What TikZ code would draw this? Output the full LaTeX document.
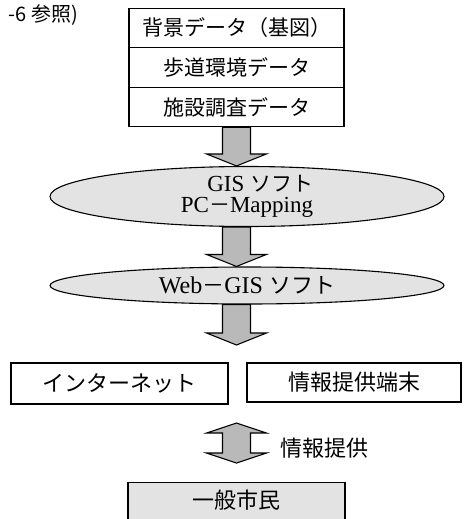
\documentclass[tikz,border=0pt]{standalone}
\usepackage{fontspec}
\setmainfont{Liberation Serif}
\newfontfamily\cjk{Noto Sans CJK JP}
\usetikzlibrary{shapes.geometric,calc}
\tikzset{
  databox/.style={draw, line width=1.1pt, minimum width=215pt, minimum height=39.5pt, inner sep=0pt, font=\cjk\fontsize{21}{21}\selectfont},
  soft/.style={ellipse, draw, line width=1.1pt, fill=gray!22, inner sep=0pt, minimum width=394pt},
  outbox/.style={draw, line width=1.1pt, inner sep=0pt, font=\cjk\fontsize{22}{22}\selectfont},
  blockarrow/.style={draw, line width=1.1pt, fill=gray!55, line join=miter},
}
\newcommand\blockdown[2]{%
  \draw[blockarrow] let \p1=(#1), \p2=(#2) in
    (\x1-14pt,\y1) -- (\x1-14pt,\y2+12pt) -- (\x1-30pt,\y2+12pt) -- (\x1,\y2)
    -- (\x1+30pt,\y2+12pt) -- (\x1+14pt,\y2+12pt) -- (\x1+14pt,\y1) -- cycle;}
\begin{document}
\begin{tikzpicture}[x=1pt,y=-1pt]
\useasboundingbox (0,0) rectangle (463,519);
\node[font=\cjk\fontsize{20}{20}\selectfont, anchor=east, inner sep=0pt] (ref) at (78,15) {-6 参照)};
\node[databox] (b1) at (236.5,28) {背景データ（基図）};
\node[databox] (b2) at (236.5,67.5) {歩道環境データ};
\node[databox] (b3) at (236.5,107) {施設調査データ};
\node[soft, minimum height=60pt, align=right, font=\fontsize{23}{21}\selectfont] (e1) at (247,196.5) {GIS {\cjk\fontsize{21}{21}\selectfont ソフト}\\PC{\cjk\fontsize{21}{21}\selectfont －}Mapping};
\node[soft, minimum height=37pt, font=\fontsize{24}{24}\selectfont] (e2) at (247,285.5) {Web{\cjk\fontsize{22}{22}\selectfont －}GIS {\cjk\fontsize{22}{22}\selectfont ソフト}};
\node[outbox, minimum width=217pt, minimum height=41pt] (net) at (119.5,383.5) {インターネット};
\node[outbox, minimum width=214pt, minimum height=39pt] (term) at (354,382.5) {情報提供端末};
\node[outbox, fill=gray!22, anchor=north, minimum width=217pt, minimum height=60pt] (citizen) at (236.5,482) {};
\node[font=\cjk\fontsize{22}{22}\selectfont, inner sep=0pt] (citizenlbl) at (236.5,500) {一般市民};
\node[font=\cjk\fontsize{22}{22}\selectfont, inner sep=0pt] (lbl) at (324,448) {情報提供};
\coordinate (a3) at (236.5,345);
\coordinate (d1) at (236.5,423);
\coordinate (d2) at (236.5,463);
\blockdown{b3.south}{b3.south |- e1.north}
\blockdown{b3.south |- e1.south}{b3.south |- e2.north}
\blockdown{b3.south |- e2.south}{a3}
\draw[blockarrow] let \p1=(d1), \p2=(d2) in
  (\x1,\y1) -- (\x1+30pt,\y1-10pt) -- (\x1+14pt,\y1-10pt) -- (\x1+14pt,\y2+10pt)
  -- (\x1+30pt,\y2+10pt) -- (\x1,\y2) -- (\x1-30pt,\y2+10pt) -- (\x1-14pt,\y2+10pt)
  -- (\x1-14pt,\y1-10pt) -- (\x1-30pt,\y1-10pt) -- cycle;
\end{tikzpicture}
\end{document}
